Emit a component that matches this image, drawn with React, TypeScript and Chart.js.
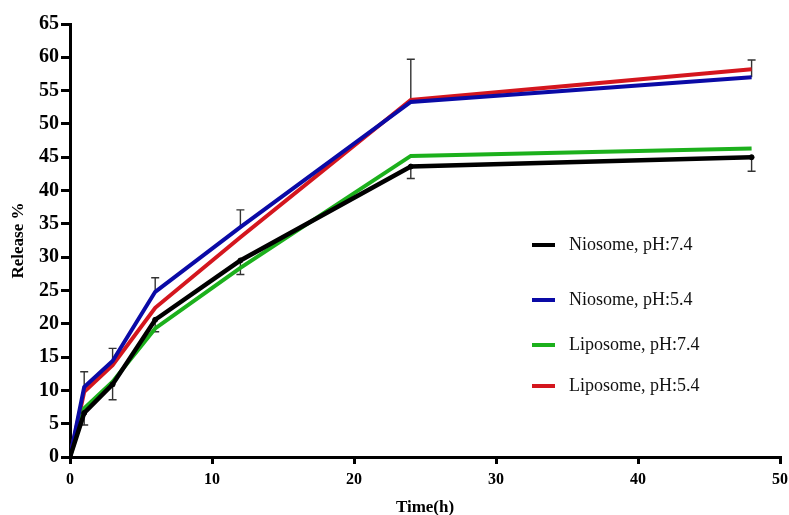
import React, { useEffect, useRef } from "react";
import { Chart, registerables } from "chart.js";

Chart.register(...registerables);

const times = [0, 1, 3, 6, 12, 24, 48];
const niosome74 = [0, 6.6, 10.9, 20.6, 29.5, 43.6, 45.0];
const niosome54 = [0, 10.5, 14.4, 24.8, 34.5, 53.3, 57.0];
const liposome74 = [0, 7.3, 11.3, 19.3, 28.4, 45.2, 46.3];
const liposome54 = [0, 9.8, 13.8, 22.4, 33.0, 53.6, 58.2];
// upper error on Niosome pH 5.4, lower error on Niosome pH 7.4
const niosome54ErrUp = [0, 2.3, 1.9, 2.1, 2.6, 6.4, 2.6];
const niosome74ErrDown = [0, 1.8, 2.3, 1.8, 2.1, 1.8, 2.1];

const seriesLabels = ["Niosome, pH:7.4", "Niosome, pH:5.4", "Liposome, pH:7.4", "Liposome, pH:5.4"];
const seriesColors = ["#000000", "#0a0aa6", "#1cb01c", "#d4161e"];
const legendYOffsets = [245, 300, 345, 386];

const SERIF = "'Liberation Serif', 'DejaVu Serif', serif";

const toXY = (vals: number[]) => vals.map((v, i) => ({ x: times[i], y: v }));

const errorBarPlugin = {
  id: "errorBars",
  beforeDatasetsDraw(chart: any) {
    const { ctx, scales } = chart;
    const xs = scales.x;
    const ys = scales.y;
    ctx.save();
    ctx.strokeStyle = "#333333";
    ctx.lineWidth = 1.4;
    const cap = 4;
    const drawBar = (t: number, from: number, to: number) => {
      const px = xs.getPixelForValue(t);
      const p1 = ys.getPixelForValue(from);
      const p2 = ys.getPixelForValue(to);
      ctx.beginPath();
      ctx.moveTo(px, p1);
      ctx.lineTo(px, p2);
      ctx.moveTo(px - cap, p2);
      ctx.lineTo(px + cap, p2);
      ctx.stroke();
    };
    times.forEach((t, i) => {
      if (niosome54ErrUp[i] > 0) drawBar(t, niosome54[i], niosome54[i] + niosome54ErrUp[i]);
      if (niosome74ErrDown[i] > 0) drawBar(t, niosome74[i], niosome74[i] - niosome74ErrDown[i]);
    });
    ctx.restore();
  },
};

const legendPlugin = {
  id: "customLegend",
  afterDraw(chart: any) {
    const { ctx } = chart;
    ctx.save();
    ctx.font = `18px ${SERIF}`;
    ctx.textBaseline = "middle";
    ctx.textAlign = "left";
    seriesLabels.forEach((label, i) => {
      const y = legendYOffsets[i];
      ctx.fillStyle = seriesColors[i];
      ctx.fillRect(532, y - 2, 23, 4);
      ctx.fillStyle = "#111111";
      ctx.fillText(label, 569, y);
    });
    ctx.restore();
  },
};

export default function App() {
  const canvasRef = useRef<HTMLCanvasElement | null>(null);

  useEffect(() => {
    if (!canvasRef.current) return;
    const series = [niosome74, niosome54, liposome74, liposome54];
    const chart = new Chart(canvasRef.current, {
      type: "line",
      data: {
        datasets: series.map((vals, i) => ({
          label: seriesLabels[i],
          data: toXY(vals),
          borderColor: seriesColors[i],
          backgroundColor: seriesColors[i],
          borderWidth: i === 0 ? 4.5 : 4,
          pointRadius: i === 0 ? 2.5 : 0,
          pointBorderWidth: 1,
          pointHoverRadius: 0,
          tension: 0,
          fill: false,
        })),
      },
      options: {
        animation: false,
        responsive: true,
        maintainAspectRatio: false,
        layout: { padding: { top: 24, right: 9, left: 0, bottom: 0 } },
        plugins: {
          legend: { display: false },
          tooltip: { enabled: false },
        },
        scales: {
          x: {
            type: "linear",
            min: 0,
            max: 50,
            afterFit: (s: any) => {
              s.height = 58;
              s.paddingRight = 0;
              s.paddingLeft = 0;
            },
            ticks: {
              stepSize: 10,
              color: "#000",
              padding: 6,
              font: { family: SERIF, size: 16, weight: "bold" },
            },
            grid: {
              display: true,
              drawOnChartArea: false,
              drawTicks: true,
              tickLength: 7,
              color: "#000",
              lineWidth: 3,
            },
            border: { display: true, color: "#000", width: 3 },
            title: {
              display: true,
              text: "Time(h)",
              color: "#000",
              padding: { top: 0, bottom: -3 },
              font: { family: SERIF, size: 17, weight: "bold" },
            },
          },
          y: {
            min: 0,
            max: 65,
            afterFit: (s: any) => {
              s.width = 70;
            },
            ticks: {
              stepSize: 5,
              color: "#000",
              padding: 2,
              font: { family: SERIF, size: 20, weight: "bold" },
            },
            grid: {
              display: true,
              drawOnChartArea: false,
              drawTicks: true,
              tickLength: 9,
              color: "#000",
              lineWidth: 3,
            },
            border: { display: true, color: "#000", width: 3 },
            title: {
              display: true,
              text: "Release %",
              color: "#000",
              padding: { top: 8, bottom: 0 },
              font: { family: SERIF, size: 17, weight: "bold" },
            },
          },
        },
      },
      plugins: [errorBarPlugin, legendPlugin],
    });
    return () => chart.destroy();
  }, []);

  return (
    <div style={{ position: "absolute", left: 0, top: 0, width: 789, height: 515, background: "#fff" }}>
      <canvas ref={canvasRef} />
    </div>
  );
}
